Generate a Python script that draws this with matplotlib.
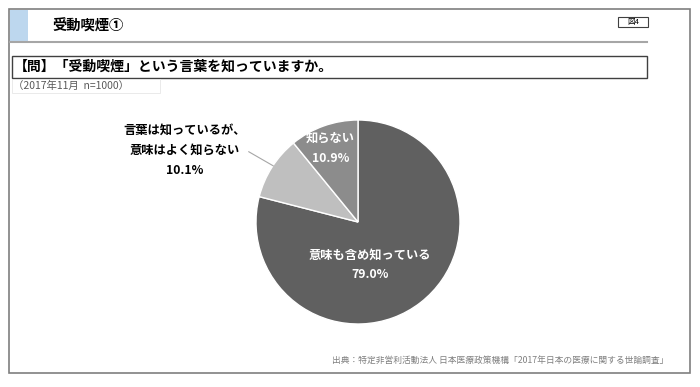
import matplotlib.pyplot as plt
from matplotlib.patches import Rectangle

plt.rcParams['font.family'] = ['Noto Sans CJK JP', 'DejaVu Sans']

# データ
labels = ['意味も含め知っている', '言葉は知っているが、\n意味はよく知らない', '知らない']
values = [79.0, 10.1, 10.9]
colors = ['#606060', '#bfbfbf', '#8c8c8c']

title = '受動喫煙①'
question = '【問】「受動喫煙」という言葉を知っていますか。'
note = '（2017年11月  n=1000）'
source = '出典：特定非営利活動法人 日本医療政策機構「2017年日本の医療に関する世論調査」'

W, H = 700, 387
fig = plt.figure(figsize=(W / 100, H / 100), dpi=100)

# 背景の枠などはピクセル座標で描く
bg = fig.add_axes([0, 0, 1, 1])
bg.set_xlim(0, W)
bg.set_ylim(H, 0)
bg.axis('off')

bg.add_patch(Rectangle((9, 9), 681, 364, fill=False, ec='#7f7f7f', lw=1.2))
bg.add_patch(Rectangle((10, 10), 18, 32, fc='#bdd7ee', ec='none'))
bg.plot([10, 647], [42, 42], color='#a6a6a6', lw=1.5)
bg.text(52, 26, title, fontsize=10.3, fontweight='bold', va='center', ha='left')
bg.add_patch(Rectangle((618, 17), 30, 10, fc='white', ec='#404040', lw=0.8))
bg.text(633, 22, '図4', fontsize=5.5, va='center', ha='center')

bg.add_patch(Rectangle((12, 56), 635, 22, fill=False, ec='#404040', lw=1.0))
bg.text(14, 67, question, fontsize=10, fontweight='bold', va='center', ha='left')
bg.add_patch(Rectangle((12, 79), 148, 14, fill=False, ec='#e6e6e6', lw=0.6))
bg.text(13, 86, note, fontsize=7.5, color='#595959', va='center', ha='left')

bg.text(668, 360, source, fontsize=6.3, color='#7f7f7f', va='center', ha='right')

# 円グラフ
cx, cy, r = 358, 222, 102
ax = fig.add_axes([(cx - r) / W, (H - cy - r) / H, 2 * r / W, 2 * r / H])
wedges, _ = ax.pie(values, colors=colors, startangle=90, counterclock=False,
                   wedgeprops=dict(edgecolor='white', linewidth=1.0))
ax.set_xlim(-1, 1)
ax.set_ylim(-1, 1)
ax.set_aspect('equal')

ax.text(0.12, -0.42, labels[0] + '\n' + f'{values[0]:.1f}%', color='white',
        fontsize=8.8, fontweight='bold', ha='center', va='center', linespacing=1.7)
ax.text(-0.27, 0.72, labels[2] + '\n' + f'{values[2]:.1f}%', color='white',
        fontsize=8.8, fontweight='bold', ha='center', va='center', linespacing=1.7)
ax.annotate(labels[1] + '\n' + f'{values[1]:.1f}%', xy=(-0.83, 0.55), xytext=(-1.7, 0.7),
            fontsize=8.8, fontweight='bold', ha='center', va='center', linespacing=1.7,
            annotation_clip=False,
            arrowprops=dict(arrowstyle='-', color='#a6a6a6', lw=0.8,
                            shrinkA=0, shrinkB=0, relpos=(0.97, 0.55)))

fig.savefig('out.png', dpi=100)
